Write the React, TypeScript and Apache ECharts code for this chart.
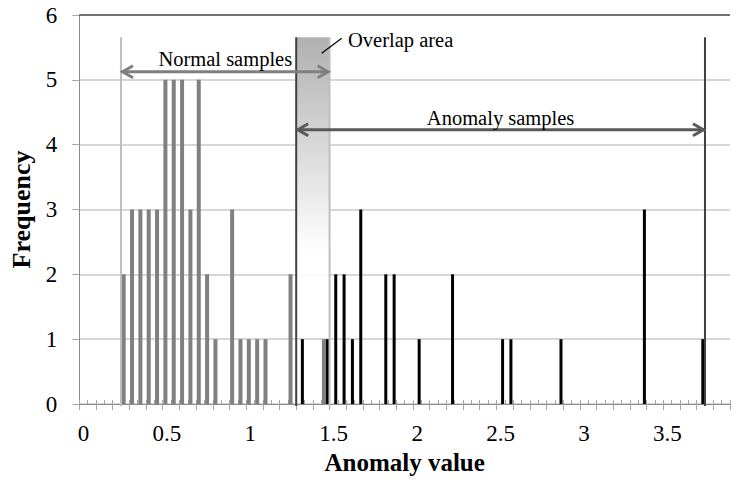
import React, { useEffect, useRef } from "react";
import * as echarts from "echarts";

// Histogram bins (anomaly value, bin width 0.05)
const binLabels = [
  "0", "0.05", "0.1", "0.15", "0.2", "0.25", "0.3", "0.35", "0.4", "0.45",
  "0.5", "0.55", "0.6", "0.65", "0.7", "0.75", "0.8", "0.85", "0.9", "0.95",
  "1", "1.05", "1.1", "1.15", "1.2", "1.25", "1.3", "1.35", "1.4", "1.45",
  "1.5", "1.55", "1.6", "1.65", "1.7", "1.75", "1.8", "1.85", "1.9", "1.95",
  "2", "2.05", "2.1", "2.15", "2.2", "2.25", "2.3", "2.35", "2.4", "2.45",
  "2.5", "2.55", "2.6", "2.65", "2.7", "2.75", "2.8", "2.85", "2.9", "2.95",
  "3", "3.05", "3.1", "3.15", "3.2", "3.25", "3.3", "3.35", "3.4", "3.45",
  "3.5", "3.55", "3.6", "3.65", "3.7", "3.75", "3.8", "3.85",
];

const normalBins = [0.25, 0.3, 0.35, 0.4, 0.45, 0.5, 0.55, 0.6, 0.65, 0.7, 0.75, 0.8, 0.9, 0.95, 1.0, 1.05, 1.1, 1.25, 1.45];
const normalCounts = [2, 3, 3, 3, 3, 5, 5, 5, 3, 5, 2, 1, 3, 1, 1, 1, 1, 2, 1];

const anomalyBins = [1.3, 1.45, 1.5, 1.55, 1.6, 1.65, 1.8, 1.85, 2.0, 2.2, 2.5, 2.55, 2.85, 3.35, 3.7];
const anomalyCounts = [1, 1, 2, 2, 1, 3, 2, 2, 1, 2, 1, 1, 1, 3, 1];

// Annotation ranges (anomaly value)
const normalRange = [0.225, 1.475];
const anomalyRange = [1.275, 3.725];

const FONT = "Liberation Serif";

function toSeries(bins: number[], counts: number[]) {
  return binLabels.map((l) => {
    const i = bins.findIndex((b) => Math.abs(b - parseFloat(l)) < 1e-6);
    return i >= 0 ? counts[i] : null;
  });
}

export default function App() {
  const ref = useRef<HTMLDivElement>(null);
  useEffect(() => {
    document.body.style.margin = "0";
    const chart = echarts.init(ref.current!, null, { renderer: "svg" });
    const L = 79.3, R = 730, T = 15, B = 406;
    const nC = binLabels.length;
    const catW = (R - L) / nC;
    const px = (v: number) => L + (v / 0.05 + 0.5) * catW;
    const py = (f: number) => B - (f * (B - T)) / 6;

    const nx1 = px(normalRange[0]), nx2 = px(normalRange[1]);
    const ax1 = px(anomalyRange[0]), ax2 = px(anomalyRange[1]);
    const topY = py(5.66);
    const nY = py(5.13);
    const aY = py(4.24);

    const arrow = (x1: number, x2: number, y: number, color: string) => [
      { type: "line", z: 20, shape: { x1: x1 + 1, y1: y, x2: x2 - 1, y2: y }, style: { stroke: color, lineWidth: 3 } },
      { type: "polyline", z: 20, shape: { points: [[x1 + 12, y - 6], [x1 + 1.5, y], [x1 + 12, y + 6]] }, style: { stroke: color, lineWidth: 3, fill: null } },
      { type: "polyline", z: 20, shape: { points: [[x2 - 12, y - 6], [x2 - 1.5, y], [x2 - 12, y + 6]] }, style: { stroke: color, lineWidth: 3, fill: null } },
    ];

    chart.setOption({
      animation: false,
      backgroundColor: "#ffffff",
      grid: { left: L, right: 736 - R, top: T, bottom: 480 - B },
      xAxis: [
        {
          type: "category",
          data: binLabels,
          position: "bottom",
          boundaryGap: true,
          name: "Anomaly value",
          nameLocation: "middle",
          nameGap: 46,
          nameTextStyle: { fontFamily: FONT, fontWeight: "bold", fontSize: 25, color: "#000" },
          axisLine: { lineStyle: { color: "#8c8c8c", width: 1 } },
          axisTick: { show: true, interval: 0, inside: true, length: 4, lineStyle: { color: "#a6a6a6" } },
          axisLabel: { interval: 9, fontFamily: FONT, fontSize: 23, color: "#000", margin: 18 },
          splitLine: { show: false },
        },
        {
          type: "category",
          data: binLabels,
          position: "bottom",
          boundaryGap: true,
          axisLine: { show: false },
          axisTick: { show: true, interval: 1, inside: false, length: 6, lineStyle: { color: "#a6a6a6" } },
          axisLabel: { show: false },
          splitLine: { show: false },
        },
      ],
      yAxis: {
        type: "value",
        min: 0,
        max: 6,
        interval: 1,
        name: "Frequency",
        nameLocation: "middle",
        nameGap: 36,
        nameTextStyle: { fontFamily: FONT, fontWeight: "bold", fontSize: 26, color: "#000" },
        axisLine: { show: true, lineStyle: { color: "#8c8c8c", width: 1 } },
        axisTick: { show: true, length: 7, lineStyle: { color: "#a6a6a6" } },
        axisLabel: { fontFamily: FONT, fontSize: 23, color: "#000", margin: 22 },
        splitLine: { lineStyle: { color: "#c8c8c8", width: 1.5 } },
      },
      series: [
        {
          name: "Normal",
          type: "bar",
          xAxisIndex: 0,
          data: toSeries(normalBins, normalCounts),
          barWidth: 4,
          barGap: "0%",
          itemStyle: { color: "#808080" },
          z: 3,
        },
        {
          name: "Anomaly",
          type: "bar",
          xAxisIndex: 0,
          data: toSeries(anomalyBins, anomalyCounts),
          barWidth: 3,
          itemStyle: { color: "#000000" },
          z: 3,
        },
      ],
      graphic: [
        {
          type: "rect",
          z: 1,
          shape: { x: ax1, y: topY, width: nx2 - ax1, height: py(2) - topY },
          style: {
            fill: new echarts.graphic.LinearGradient(0, 0, 0, 1, [
              { offset: 0, color: "#b0b0b0" },
              { offset: 0.9, color: "#ffffff" },
              { offset: 1, color: "#ffffff" },
            ]),
          },
        },
        { type: "line", z: 10, shape: { x1: L, y1: T, x2: R, y2: T }, style: { stroke: "#505050", lineWidth: 1.5 } },
        { type: "line", z: 10, shape: { x1: nx1, y1: topY, x2: nx1, y2: B }, style: { stroke: "#bfbfbf", lineWidth: 2 } },
        { type: "line", z: 10, shape: { x1: nx2, y1: topY, x2: nx2, y2: B }, style: { stroke: "#bfbfbf", lineWidth: 2 } },
        { type: "line", z: 10, shape: { x1: ax1, y1: topY, x2: ax1, y2: B }, style: { stroke: "#404040", lineWidth: 2 } },
        { type: "line", z: 10, shape: { x1: ax2, y1: topY, x2: ax2, y2: B }, style: { stroke: "#404040", lineWidth: 2 } },
        ...arrow(nx1, nx2, nY, "#7f7f7f"),
        ...arrow(ax1, ax2, aY, "#595959"),
        {
          type: "text", z: 20, x: (nx1 + nx2) / 2, y: 59,
          style: { text: "Normal samples", fontFamily: FONT, fontSize: 20.5, fill: "#000", align: "center", verticalAlign: "middle" },
        },
        {
          type: "text", z: 20, x: (ax1 + ax2) / 2, y: 117.5,
          style: { text: "Anomaly samples", fontFamily: FONT, fontSize: 20.5, fill: "#000", align: "center", verticalAlign: "middle" },
        },
        { type: "line", z: 20, shape: { x1: 321.7, y1: 53.3, x2: 341.7, y2: 38.3 }, style: { stroke: "#000", lineWidth: 1.2 } },
        {
          type: "text", z: 20, x: 348, y: 40,
          style: { text: "Overlap area", fontFamily: FONT, fontSize: 20.5, fill: "#000", align: "left", verticalAlign: "middle" },
        },
      ],
    });
    return () => chart.dispose();
  }, []);
  return <div ref={ref} style={{ width: 736, height: 480 }} />;
}
